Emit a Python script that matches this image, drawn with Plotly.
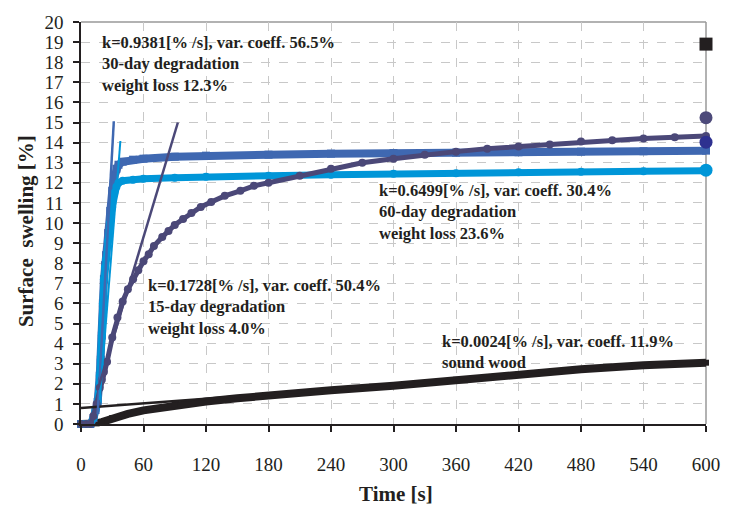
import plotly.graph_objects as go

# ---- data ----
sound_t = [0, 5, 10, 15, 20, 30, 45, 60, 90, 120, 150, 180, 240, 300, 360, 420, 480, 540, 600]
sound_y = [0, 0, 0, 0.03, 0.1, 0.3, 0.5, 0.68, 0.95, 1.12, 1.28, 1.43, 1.68, 1.9, 2.2, 2.47, 2.72, 2.92, 3.05]

d30_t = [0, 5, 9, 12, 14, 16, 18, 19, 20, 21, 22, 23, 24, 26, 28, 30, 32, 34, 36, 40, 50, 60, 90, 120, 180, 240, 300, 360, 420, 480, 540, 600]
d30_y = [0, 0, 0, 0.3, 0.7, 1.1, 2.4, 3.2, 4.4, 6.0, 7.2, 7.9, 8.4, 9.5, 10.6, 11.6, 12.3, 12.7, 12.9, 13.05, 13.15, 13.2, 13.3, 13.35, 13.4, 13.45, 13.48, 13.5, 13.52, 13.55, 13.57, 13.6]

d60_t = [0, 5, 9, 12, 14, 16, 18, 19, 20, 21, 22, 23, 24, 26, 28, 30, 32, 34, 36, 40, 50, 60, 90, 120, 180, 240, 300, 360, 420, 480, 540, 600]
d60_y = [0, 0, 0, 0.3, 0.7, 1.1, 2.4, 3.2, 4.4, 6.0, 7.2, 7.8, 8.2, 9.1, 10.0, 10.8, 11.5, 11.8, 12.0, 12.1, 12.15, 12.2, 12.25, 12.3, 12.35, 12.4, 12.45, 12.48, 12.52, 12.55, 12.58, 12.6]

d15_t = [0, 5, 9, 12, 15, 18, 20, 22, 25, 30, 35, 40, 45, 50, 55, 60, 65, 70, 78, 84, 90, 98, 106, 115, 125, 138, 153, 166, 180, 210, 240, 270, 300, 330, 360, 390, 420, 450, 480, 510, 540, 570, 600]
d15_y = [0, 0, 0, 0.4, 1.0, 1.8, 2.2, 2.6, 3.1, 4.3, 5.3, 6.1, 6.7, 7.2, 7.65, 8.1, 8.45, 8.85, 9.3, 9.6, 9.9, 10.2, 10.5, 10.8, 11.05, 11.35, 11.6, 11.85, 12.0, 12.35, 12.7, 13.0, 13.2, 13.4, 13.55, 13.7, 13.8, 13.9, 14.05, 14.12, 14.2, 14.27, 14.33]

# linear fits (end points)
fit_sound_t = [0, 600]
fit_sound_y = [0.8, 3.1]
fit30_t = [16, 31.5]
fit30_y = [0.5, 15.06]
fit60_t = [18, 37.8]
fit60_y = [1.2, 14.08]
fit15_t = [16, 93]
fit15_y = [1.7, 15.0]

# end markers
end_t = [600, 600, 600, 600]
end_y = [18.9, 15.24, 14.02, 12.63]
end_sym = ["square", "circle", "circle", "circle"]
end_col = ["#231f20", "#4d4a7a", "#2e3190", "#0096d8"]

labels = [
    "k=0.9381[% /s], var. coeff. 56.5%<br>30-day degradation<br>weight loss 12.3%",
    "k=0.6499[% /s], var. coeff. 30.4%<br>60-day degradation<br>weight loss 23.6%",
    "k=0.1728[% /s], var. coeff. 50.4%<br>15-day degradation<br>weight loss 4.0%",
    "k=0.0024[% /s], var. coeff. 11.9%<br>sound wood",
]
label_t = [18.2, 284.5, 62.5, 344.5]
label_y = [17.9, 10.56, 5.82, 3.6]

C_BLACK = "#231f20"
C_MED = "#3f68b1"
C_LIGHT = "#0096d8"
C_SLATE = "#4b4878"

fig = go.Figure()

def series(t, y, color, sym, lw=6, ms=7):
    fig.add_trace(go.Scatter(x=t, y=y, mode="lines+markers",
                             line=dict(color=color, width=lw),
                             marker=dict(color=color, size=ms, symbol=sym),
                             cliponaxis=False, showlegend=False))

series(sound_t, sound_y, C_BLACK, "square", lw=8, ms=6)
series(d30_t, d30_y, C_MED, "square", lw=8, ms=8)
series(d60_t, d60_y, C_LIGHT, "circle", lw=7, ms=8)
series(d15_t, d15_y, C_SLATE, "circle", lw=5, ms=8)

def fitline(t, y, color, w=2.5):
    fig.add_trace(go.Scatter(x=t, y=y, mode="lines", line=dict(color=color, width=w),
                             showlegend=False))

fitline(fit_sound_t, fit_sound_y, C_BLACK)
fitline(fit30_t, fit30_y, C_MED)
fitline(fit60_t, fit60_y, C_LIGHT, 2)
fitline(fit15_t, fit15_y, C_SLATE)

fig.add_trace(go.Scatter(x=end_t, y=end_y, mode="markers",
                         marker=dict(symbol=end_sym, color=end_col, size=13),
                         cliponaxis=False, showlegend=False))

for txt, tx, ty in zip(labels, label_t, label_y):
    fig.add_annotation(x=tx, y=ty, xref="x", yref="y", text="<b>" + txt + "</b>",
                       showarrow=False, xanchor="left", yanchor="middle", align="left",
                       font=dict(family="Liberation Serif", size=16.5, color="#231f20"))

fig.add_annotation(x=-0.087, y=0.479, xref="paper", yref="paper",
                   xanchor="center", yanchor="middle",
                   text="<b>Surface  swelling [%]</b>", textangle=-90, showarrow=False,
                   font=dict(family="Liberation Serif", size=21, color="#231f20"))
fig.add_annotation(x=0.504, y=-0.174, xref="paper", yref="paper",
                   xanchor="center", yanchor="middle",
                   text="<b>Time [s]</b>", showarrow=False,
                   font=dict(family="Liberation Serif", size=21, color="#231f20"))

# gray top/right frame
fig.add_shape(type="line", xref="paper", yref="paper", x0=0, x1=1, y0=1, y1=1,
              layer="below", line=dict(color="#999999", width=1.5))
fig.add_shape(type="line", xref="paper", yref="paper", x0=1, x1=1, y0=0, y1=1,
              layer="below", line=dict(color="#999999", width=1.5))

axis_font = dict(family="Liberation Serif", size=19, color="#231f20")
fig.update_xaxes(range=[0, 600], tickmode="linear", tick0=0, dtick=60,
                 showgrid=True, gridcolor="#c8c8c8", griddash="dash", gridwidth=1,
                 showline=True, linecolor="#231f20", linewidth=1.5,
                 ticks="outside", ticklen=6, tickcolor="#231f20", tickwidth=1.5,
                 ticklabelstandoff=16,
                 tickfont=axis_font, zeroline=False)
fig.update_yaxes(range=[0, 20], tickmode="linear", tick0=0, dtick=1,
                 showgrid=True, gridcolor="#c8c8c8", griddash="dash", gridwidth=1,
                 showline=True, linecolor="#231f20", linewidth=1.5,
                 ticks="outside", ticklen=6, tickcolor="#231f20", tickwidth=1.5,
                 ticklabelstandoff=6,
                 tickfont=axis_font, zeroline=False)

fig.update_layout(width=732, height=512, margin=dict(l=81, r=16, t=15, b=88),
                  plot_bgcolor="white", paper_bgcolor="white")

fig.write_html("out.html")
